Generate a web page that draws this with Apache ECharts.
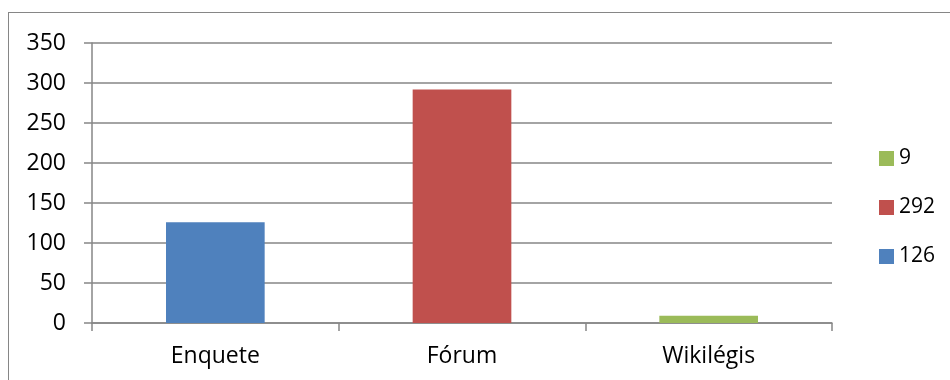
<!DOCTYPE html>
<html>
<head>
    <meta charset="UTF-8">
    <script src="https://cdn.jsdelivr.net/npm/echarts@6.0.0/dist/echarts.min.js"></script>
    <style>
        html, body { margin: 0; padding: 0; background: #fff; }
        #frame {
            position: absolute; left: 8px; top: 12px; width: 960px; height: 400px;
            border-left: 1.5px solid #868686; border-top: 1.5px solid #868686;
        }
        #chart { position: absolute; left: 0; top: 0; width: 950px; height: 380px; }
    </style>
</head>
<body>
    <div id="frame"></div>
    <div id="chart"></div>
    <script>
        const categories = ['Enquete', 'Fórum', 'Wikilégis'];
        const values = [126, 292, 9];
        const colors = ['#4F81BD', '#C0504D', '#9BBB59'];
        const yTicks = [0, 50, 100, 150, 200, 250, 300, 350];

        const font = '"Open Sans", sans-serif';
        const chart = echarts.init(document.getElementById('chart'));

        // one series per category so the legend shows each value
        const series = values.map((v, i) => ({
            name: String(v),
            type: 'bar',
            stack: 'all',
            barWidth: '40%',
            itemStyle: { color: colors[i] },
            data: categories.map((c, j) => (j === i ? v : '-'))
        }));

        chart.setOption({
            animation: false,
            textStyle: { fontFamily: font },
            grid: { left: 92, right: 118, top: 43, bottom: 57 },
            legend: {
                orient: 'vertical',
                left: 874,
                top: 143,
                itemWidth: 15,
                itemHeight: 15,
                itemGap: 28,
                icon: 'rect',
                data: values.map(String).reverse(),
                textStyle: { fontSize: 21, lineHeight: 20, color: '#000', fontFamily: font }
            },
            xAxis: {
                type: 'category',
                data: categories,
                axisLine: { lineStyle: { color: '#868686', width: 1.5 } },
                axisTick: { show: true, length: 8, lineStyle: { color: '#868686', width: 1.5 } },
                axisLabel: { fontSize: 23, color: '#000', margin: 22 }
            },
            yAxis: {
                type: 'value',
                min: yTicks[0],
                max: yTicks[yTicks.length - 1],
                interval: 50,
                axisLine: { show: true, lineStyle: { color: '#868686', width: 1.5 } },
                axisTick: { show: true, length: 8, lineStyle: { color: '#868686', width: 1.5 } },
                axisLabel: { fontSize: 23, color: '#000', margin: 26 },
                splitLine: { lineStyle: { color: '#868686', width: 1.5 } }
            },
            series: series
        });
    </script>
</body>
</html>
